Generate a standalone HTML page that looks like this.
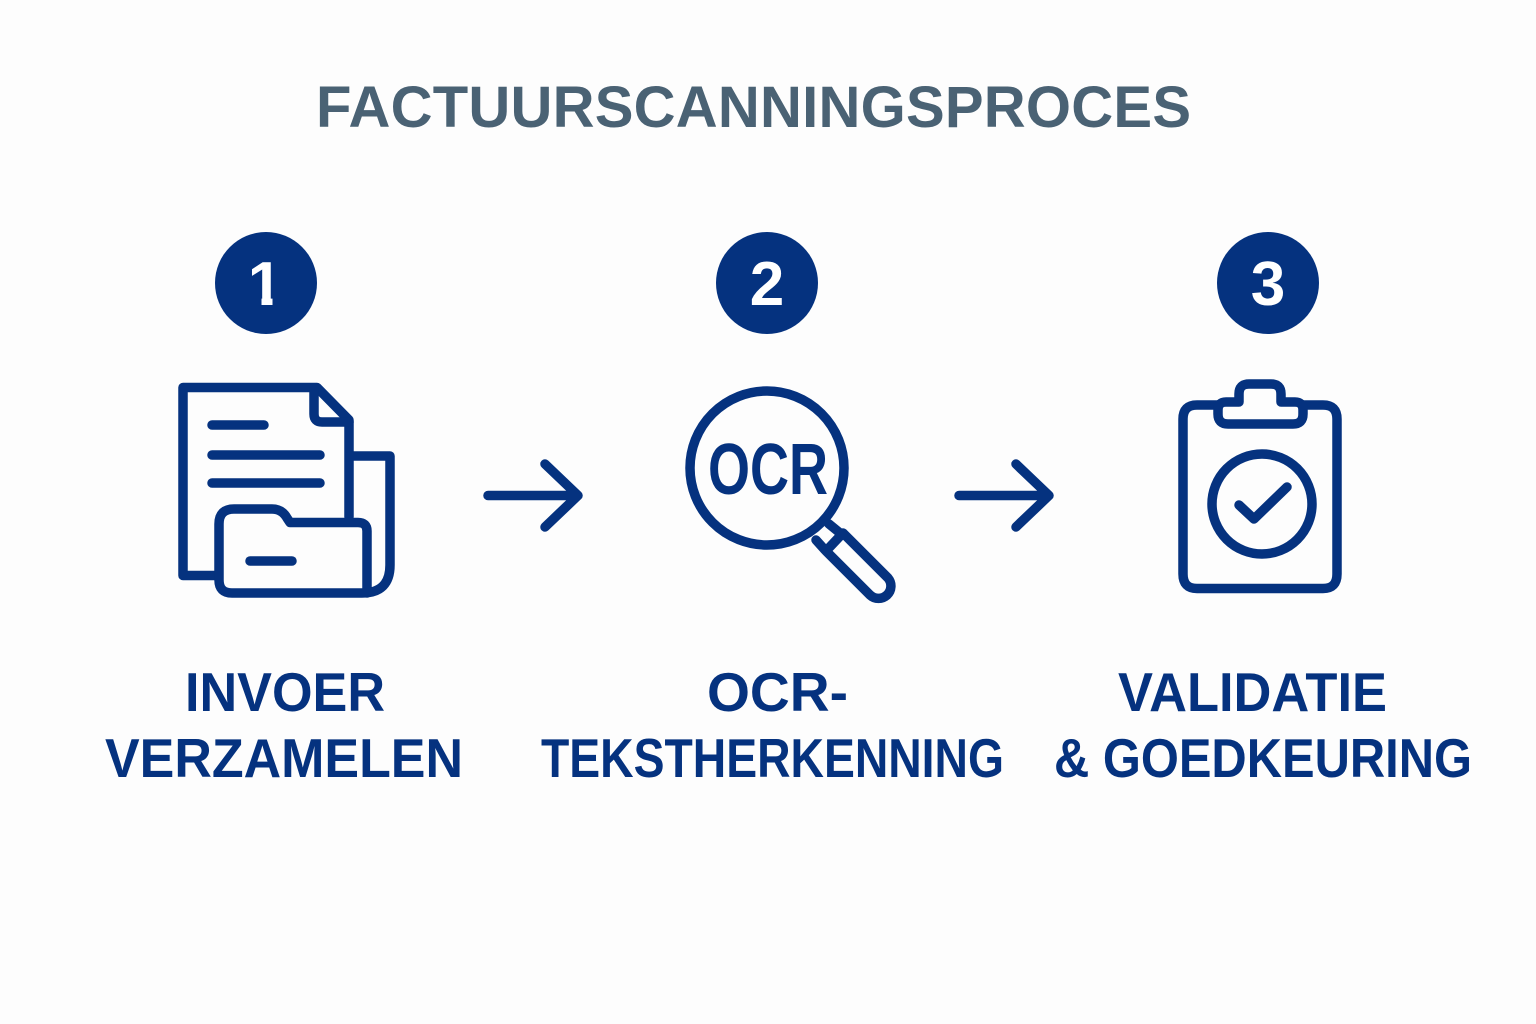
<!DOCTYPE html>
<html><head><meta charset="utf-8"><style>
html,body{margin:0;padding:0;background:#fdfdfd}
svg{display:block}
text{font-family:"Liberation Sans",sans-serif;font-weight:700}
</style></head><body>
<svg width="1536" height="1024" viewBox="0 0 1536 1024" xmlns="http://www.w3.org/2000/svg">
<rect width="1536" height="1024" fill="#fdfdfd"/>
<text x="316" y="127" font-size="58" fill="#4a6274" textLength="875" lengthAdjust="spacing">FACTUURSCANNINGSPROCES</text>
<g fill="#05327f"><circle cx="266" cy="283" r="51"/><circle cx="767" cy="283" r="51"/><circle cx="1268" cy="283" r="51"/></g>
<g fill="#fff" font-size="62" text-anchor="middle"><text x="265" y="305">1</text><text x="767" y="305">2</text><text x="1268" y="305">3</text></g>
<g fill="#05327f"><rect x="243" y="297" width="18.500" height="10"/><rect x="272.500" y="297" width="17" height="10"/></g>
<g fill="none" stroke="#05327f" stroke-width="9.5" stroke-linecap="round" stroke-linejoin="round">
<path d="M215 575.500H183V387.500H317L349 420V517"/>
<path d="M314 388V414Q314 422 322 422H349"/>
<path d="M212 425H264M212 455H320M212 483H320"/>
<path d="M350 456H390V565Q390 593 362 593H232Q219 593 219 580V524Q219 509 234 509H272Q282 509 287 518L290 522.500H358Q367 522.500 367 531V593"/>
<path d="M250 561H292"/>
<circle cx="767" cy="468" r="77"/>
<path d="M816 540L825 550M829 524L840 533"/>
<path d="M843 533L888 578A12.400 12.400 0 0 1 870 595L826 551Z"/>
<path d="M1218 405H1197Q1183 405 1183 419V574Q1183 588.500 1197 588.500H1323Q1337 588.500 1337 574V419Q1337 405 1323 405H1303"/>
<path d="M1239 402H1226Q1218 402 1218 410V414Q1218 424 1228 424H1293Q1303 424 1303 414V410Q1303 402 1295 402H1281V394Q1281 384 1271 384H1249Q1239 384 1239 394Z"/>
<circle cx="1262" cy="504" r="50"/>
<path d="M1239 505L1254 519L1287 487"/>
<path d="M488 495.500H577M545 464L578 495.500L545 527"/>
<path d="M959 495.500H1048M1016 464L1049 495.500L1016 527"/>
</g>
<g fill="#05327f" font-size="55">
<text x="185" y="711" textLength="200" lengthAdjust="spacingAndGlyphs">INVOER</text>
<text x="105" y="777" textLength="358" lengthAdjust="spacingAndGlyphs">VERZAMELEN</text>
<text x="707" y="711" textLength="141" lengthAdjust="spacingAndGlyphs">OCR-</text>
<text x="541" y="777" textLength="463" lengthAdjust="spacingAndGlyphs">TEKSTHERKENNING</text>
<text x="1118" y="711" textLength="269" lengthAdjust="spacingAndGlyphs">VALIDATIE</text>
<text x="1054" y="777" textLength="418" lengthAdjust="spacingAndGlyphs">&amp; GOEDKEURING</text>
</g>
<text x="768" y="494" font-size="72" fill="#05327f" text-anchor="middle" textLength="120" lengthAdjust="spacingAndGlyphs">OCR</text>
</svg>
</body></html>
